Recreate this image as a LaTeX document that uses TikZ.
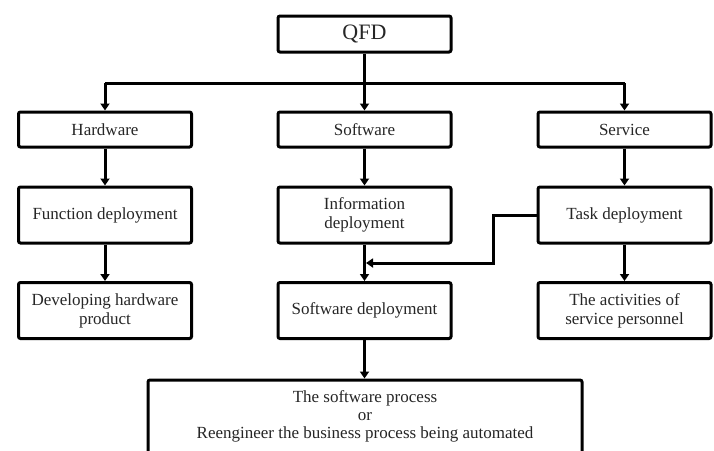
\documentclass[tikz,border=0pt]{standalone}
\usepackage{fontspec}
\setmainfont{Liberation Serif}
\usetikzlibrary{arrows.meta}

\tikzset{
  stagebox/.style={draw=black, line width=3pt, rounded corners=2pt, fill=white,
    minimum width=173pt, align=center, inner sep=0pt, text=black!85,
    font=\fontsize{17}{19}\selectfont},
  flow/.style={line width=3pt, -{Triangle[width=9pt,length=7pt]}},
  link/.style={line width=3pt},
}

\begin{document}
\begin{tikzpicture}[x=1pt, y=-1pt, line join=miter]
  \clip (0,0) rectangle (714,450);
  \fill[white] (0,0) rectangle (714,450);

  % top node
  \node[stagebox, minimum height=36pt, font=\fontsize{22}{24}\selectfont] (qfd) at (364.5,34) {QFD};

  % first level
  \node[stagebox, minimum height=35pt] (hw)  at (105,129.5)   {Hardware};
  \node[stagebox, minimum height=35pt] (sw)  at (364.5,129.5) {Software};
  \node[stagebox, minimum height=35pt] (svc) at (624.5,129.5) {Service};

  % second level
  \node[stagebox, minimum height=56pt] (fd)  at (105,215)   {Function deployment};
  \node[stagebox, minimum height=56pt] (idp) at (364.5,215) {Information\\deployment};
  \node[stagebox, minimum height=56pt] (td)  at (624.5,215) {Task deployment};

  % third level
  \node[stagebox, minimum height=56pt] (dhp) at (105,310.5)   {Developing hardware\\product};
  \node[stagebox, minimum height=56pt] (sd)  at (364.5,310.5) {Software deployment};
  \node[stagebox, minimum height=56pt] (sap) at (624.5,310.5) {The activities of\\service personnel};

  % final stage (runs past the lower edge)
  \node[stagebox, minimum width=434pt, minimum height=100pt, anchor=north] (proc) at (365,378.5) {};
  \node[anchor=north, align=center, text=black!85, inner sep=0pt,
        font=\fontsize{17}{18}\selectfont] (proctext) at ([yshift=-12pt]proc.north)
        {The software process\\or\\Reengineer the business process being automated};

  % distribution bus
  \coordinate (bus) at (364.5,83);
  \draw[link] (qfd.south) -- (bus);
  \draw[link] (hw.north |- bus) -- (svc.north |- bus);
  \draw[flow] (hw.north |- bus) -- (hw.north);
  \draw[flow] (bus) -- (sw.north);
  \draw[flow] (svc.north |- bus) -- (svc.north);

  % columns
  \draw[flow] (hw.south) -- (fd.north);
  \draw[flow] (fd.south) -- (dhp.north);
  \draw[flow] (sw.south) -- (idp.north);
  \draw[flow] (idp.south) -- (sd.north);
  \draw[flow] (svc.south) -- (td.north);
  \draw[flow] (td.south) -- (sap.north);
  \draw[flow] (sd.south) -- (sd.south |- proc.north);

  % task deployment feeds into software deployment
  \coordinate (merge) at (366,263);
  \draw[flow] (td.west) -- ++(-43,0) |- (merge);
\end{tikzpicture}
\end{document}
